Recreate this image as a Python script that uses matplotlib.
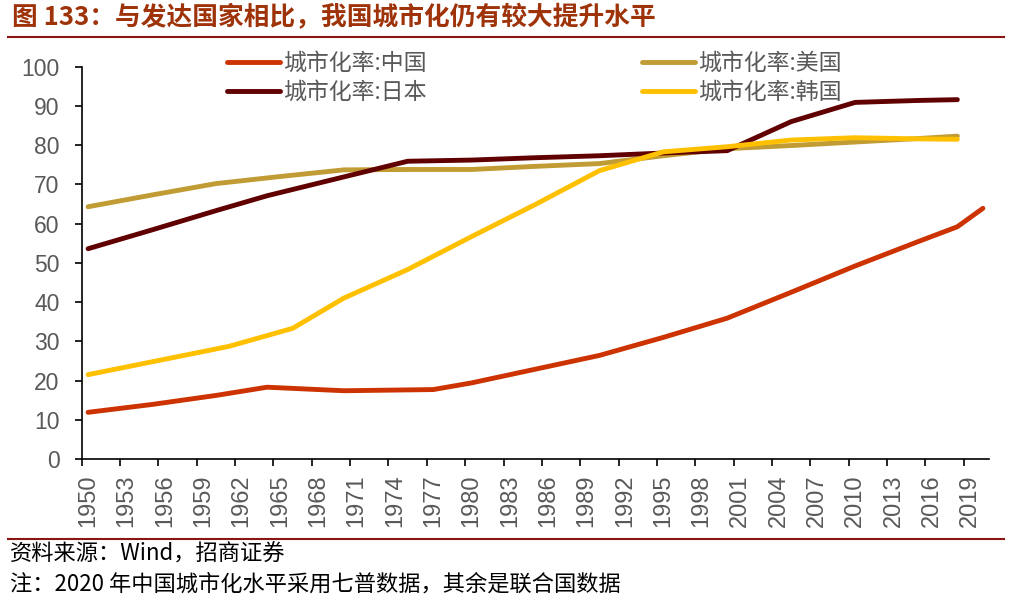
import matplotlib
matplotlib.use("Agg")
import matplotlib.pyplot as plt
from matplotlib.lines import Line2D

plt.rcParams['font.family'] = ['Liberation Sans', 'Noto Sans CJK SC', 'DejaVu Sans']

# data (urbanisation rate, %)
cn_years = [1950, 1955, 1960, 1964, 1970, 1977, 1980, 1985, 1990, 1995, 2000, 2005, 2010, 2015, 2018, 2020]
cn_rate = [11.9, 13.9, 16.2, 18.3, 17.4, 17.7, 19.4, 22.9, 26.4, 31.0, 35.9, 42.5, 49.2, 55.5, 59.2, 63.9]

us_years = [1950, 1955, 1960, 1965, 1970, 1975, 1980, 1985, 1990, 1995, 2000, 2005, 2010, 2015, 2018]
us_rate = [64.3, 67.3, 70.2, 72.0, 73.7, 73.8, 73.8, 74.6, 75.3, 77.3, 79.1, 79.9, 80.8, 81.7, 82.3]

jp_years = [1950, 1955, 1960, 1964, 1970, 1975, 1980, 1985, 1990, 1995, 2000, 2005, 2010, 2015, 2018]
jp_rate = [53.6, 58.4, 63.3, 67.1, 71.9, 75.9, 76.2, 76.8, 77.3, 78.0, 78.6, 86.0, 90.9, 91.4, 91.6]

kr_years = [1950, 1961, 1966, 1970, 1975, 1980, 1985, 1990, 1995, 2000, 2005, 2010, 2015, 2018]
kr_rate = [21.5, 28.7, 33.3, 41.0, 48.3, 56.7, 64.9, 73.5, 78.3, 79.6, 81.3, 81.9, 81.6, 81.5]

labels = ['城市化率:中国', '城市化率:日本', '城市化率:美国', '城市化率:韩国']
colors = {'cn': '#CC3300', 'us': '#C19B33', 'jp': '#600000', 'kr': '#FFC000'}

tick_years = list(range(1950, 2020, 3))

W, H = 1027, 607
fig = plt.figure(figsize=(W / 100, H / 100), dpi=100)
ax = fig.add_axes([81.7 / W, 1 - 459 / H, (989.3 - 81.7) / W, (459 - 66.7) / H])

lw = 3.5
l_cn, = ax.plot(cn_years, cn_rate, color=colors['cn'], lw=lw, solid_capstyle='round', zorder=3)
l_us, = ax.plot(us_years, us_rate, color=colors['us'], lw=lw, solid_capstyle='round', zorder=2)
l_jp, = ax.plot(jp_years, jp_rate, color=colors['jp'], lw=lw, solid_capstyle='round', zorder=2)
l_kr, = ax.plot(kr_years, kr_rate, color=colors['kr'], lw=lw, solid_capstyle='round', zorder=2)

ax.set_xlim(1949.5, 2020.5)
ax.set_ylim(0, 100)
ax.set_yticks(range(0, 101, 10))
ax.set_xticks([y - 0.5 for y in tick_years])
ax.set_xticklabels([])
ax.set_xticks(tick_years, minor=True)
ax.set_xticklabels([str(y) for y in tick_years], minor=True, rotation=90)

for s in ['top', 'right']:
    ax.spines[s].set_visible(False)
for s in ['left', 'bottom']:
    ax.spines[s].set_linewidth(1.2)
ax.tick_params(axis='y', length=5, width=1.2, pad=11, labelsize=16.5, labelcolor='#595959')
ax.tick_params(axis='x', which='major', length=5, width=1.2)
ax.tick_params(axis='x', which='minor', length=0, pad=11, labelsize=17, labelcolor='#595959')

cjk = ['Noto Sans CJK SC', 'DejaVu Sans']
fig.legend([l_cn, l_jp, l_us, l_kr], labels, ncol=2, loc='upper left',
           bbox_to_anchor=(227 / W, 1 - 52 / H), frameon=False,
           prop={'family': cjk, 'size': 16.5}, labelcolor='#595959',
           handlelength=2.3, handletextpad=0.15, columnspacing=9.4,
           labelspacing=0.25, borderpad=0, borderaxespad=0)

fig.text(12 / W, 1 - 18 / H, '图 133：与发达国家相比，我国城市化仍有较大提升水平',
         family=cjk, fontsize=18.5, fontweight='bold', color='#9E3208', va='center')
fig.add_artist(Line2D([8 / W, 1004 / W], [1 - 37 / H] * 2, color='#8B1414', lw=1.5))
fig.add_artist(Line2D([8 / W, 1004 / W], [1 - 539 / H] * 2, color='#8B1414', lw=1.5))

fig.text(10 / W, 1 - 554 / H, '资料来源：Wind，招商证券', family=cjk, fontsize=16, va='center')
fig.text(10 / W, 1 - 584 / H, '注：2020 年中国城市化水平采用七普数据，其余是联合国数据',
         family=cjk, fontsize=16, va='center')

fig.savefig('out.png', dpi=100)
